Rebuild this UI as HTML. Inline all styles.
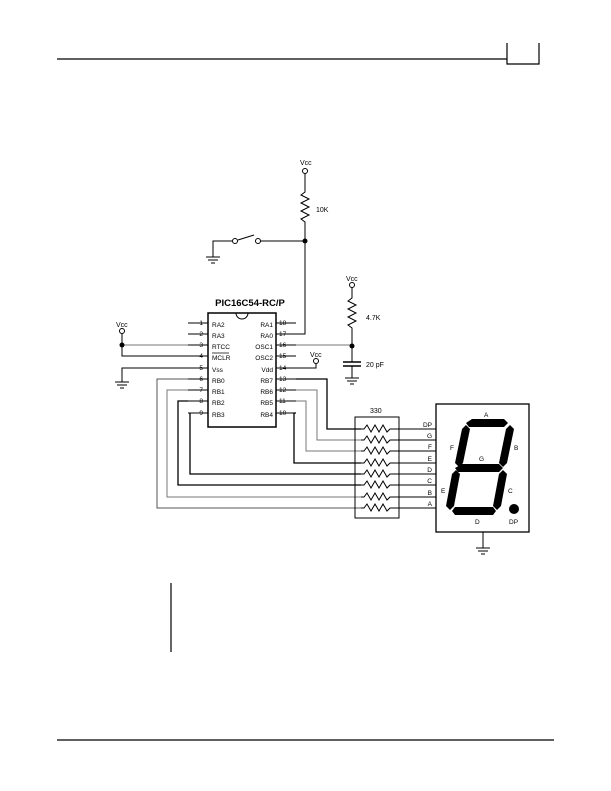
<!DOCTYPE html>
<html><head><meta charset="utf-8"><style>
html,body{margin:0;padding:0;background:#fff;}
svg{display:block;}
text{font-family:"Liberation Sans",Arial,sans-serif;fill:#000;}
</style></head><body>
<svg width="611" height="791" viewBox="0 0 611 791" xmlns="http://www.w3.org/2000/svg">
<!-- header -->
<g stroke="#000" stroke-width="1.2" fill="none">
<line x1="57" y1="59" x2="507" y2="59"/>
<polyline points="507,43 507,64 539,64 539,43"/>
<line x1="57" y1="740" x2="554" y2="740"/>
<line x1="171" y1="583" x2="171" y2="652"/>
</g>
<g stroke="#000" stroke-width="1" fill="none">
<!-- IC -->
<rect x="208" y="313" width="68" height="114" stroke-width="1.5"/>
<path d="M236,313 a6,6 0 0 0 12,0"/>
<!-- left stubs -->
<line x1="188" y1="323" x2="208" y2="323"/>
<line x1="188" y1="334" x2="208" y2="334"/>
<line x1="188" y1="345" x2="208" y2="345"/>
<line x1="188" y1="356" x2="208" y2="356"/>
<line x1="188" y1="368" x2="208" y2="368"/>
<line x1="188" y1="379" x2="208" y2="379"/>
<line x1="188" y1="390" x2="208" y2="390"/>
<line x1="188" y1="401" x2="208" y2="401"/>
<line x1="188" y1="413" x2="208" y2="413"/>
<!-- right stubs -->
<line x1="276" y1="323" x2="296" y2="323"/>
<line x1="276" y1="334" x2="296" y2="334"/>
<line x1="276" y1="345" x2="296" y2="345"/>
<line x1="276" y1="356" x2="296" y2="356"/>
<line x1="276" y1="368" x2="296" y2="368"/>
<line x1="276" y1="379" x2="296" y2="379"/>
<line x1="276" y1="390" x2="296" y2="390"/>
<line x1="276" y1="401" x2="296" y2="401"/>
<line x1="276" y1="413" x2="296" y2="413"/>
<!-- top: Vcc, 10K, switch -->
<circle cx="305" cy="171" r="2.5"/>
<polyline points="305,173 305,192 301,195 309,199 301,203 309,207 301,211 309,215 301,219 305,222 305,334 296,334"/>
<line x1="305" y1="241" x2="260" y2="241"/>
<circle cx="258" cy="241" r="2.5"/>
<line x1="238" y1="240" x2="254" y2="235"/>
<circle cx="235" cy="241" r="2.5"/>
<polyline points="232,241 213,241 213,257"/>
<line x1="206" y1="257" x2="220" y2="257"/>
<line x1="208" y1="260" x2="218" y2="260"/>
<line x1="211" y1="263" x2="215" y2="263"/>
<!-- left Vcc -->
<circle cx="122" cy="331" r="2.5"/>
<polyline points="122,333 122,356 188,356"/>
<line x1="122" y1="345" x2="188" y2="345" stroke="#777"/>
<!-- vss ground -->
<polyline points="188,368 122,368 122,382"/>
<line x1="115" y1="382" x2="129" y2="382"/>
<line x1="117" y1="385" x2="127" y2="385"/>
<line x1="120" y1="388" x2="124" y2="388"/>
<!-- vdd -->
<polyline points="296,368 316,368 316,363"/>
<circle cx="316" cy="361" r="2.5"/>
<!-- OSC1 -->
<line x1="296" y1="345" x2="352" y2="345" stroke="#777"/>
<!-- RC -->
<circle cx="352" cy="285" r="2.5"/>
<polyline points="352,287 352,298 348,301 356,305 348,309 356,313 348,317 356,321 348,325 352,328 352,362"/>
<line x1="343" y1="362" x2="361" y2="362" stroke-width="1.5"/>
<line x1="343" y1="366" x2="361" y2="366" stroke-width="1.5"/>
<line x1="352" y1="366" x2="352" y2="378"/>
<line x1="345" y1="378" x2="359" y2="378"/>
<line x1="347" y1="381" x2="357" y2="381"/>
<line x1="350" y1="384" x2="354" y2="384"/>
<!-- right pin routing -->
<polyline points="296,379 327,379 327,429 361,429" stroke-width="1.3"/>
<polyline points="296,390 317,390 317,440 361,440" stroke="#777"/>
<polyline points="296,401 306,401 306,451 361,451" stroke="#777"/>
<polyline points="296,413 294,413 294,463 361,463" stroke-width="1.3"/>
<line x1="294" y1="413" x2="296" y2="413"/>
<!-- left pin routing -->
<polyline points="190,413 190,474 361,474" stroke-width="1.3"/>
<polyline points="188,401 178,401 178,485 361,485" stroke-width="1.3"/>
<polyline points="188,390 167,390 167,497 361,497" stroke="#777"/>
<polyline points="188,379 157,379 157,508 361,508" stroke="#555"/>
<!-- network -->
<rect x="355" y="417" width="44" height="101"/>
<g id="zz">
<polyline points="361,429 364,429 367,425 371,432 375,425 379,432 383,425 387,432 390,429 436,429"/>
</g>
<use href="#zz" y="11"/>
<use href="#zz" y="22"/>
<use href="#zz" y="34"/>
<use href="#zz" y="45"/>
<use href="#zz" y="56"/>
<use href="#zz" y="68"/>
<use href="#zz" y="79"/>
<!-- display -->
<rect x="436" y="404" width="93" height="128" stroke-width="1.3"/>
<line x1="483" y1="532" x2="483" y2="548"/>
<line x1="476" y1="548" x2="490" y2="548"/>
<line x1="478" y1="551" x2="488" y2="551"/>
<line x1="481" y1="554" x2="485" y2="554"/>
</g>
<!-- junction dots -->
<g fill="#000">
<circle cx="305" cy="241" r="2.5"/>
<circle cx="122" cy="345" r="2.5"/>
<circle cx="352" cy="346" r="2.5"/>
<!-- segments -->
<polygon points="472,419 504,419 508,423 504,427 469,427 466,423"/>
<polygon points="510,425 514,429 507,463 503,467 499,463 506,429"/>
<polygon points="466,425 470,429 463,463 459,467 455,463 462,429"/>
<polygon points="462,464 499,464 503,468 499,472 458,472 455,468"/>
<polygon points="456,470 460,474 454,506 450,510 446,506 452,474"/>
<polygon points="503,470 507,474 501,506 497,510 493,506 499,474"/>
<polygon points="455,507 493,507 496,511 493,515 455,515 452,511"/>
<circle cx="514" cy="509" r="5"/>
</g>
<!-- text -->
<g font-size="7">
<text x="300" y="165">Vcc</text>
<text x="316" y="212">10K</text>
<text x="116" y="327">Vcc</text>
<text x="310" y="357">Vcc</text>
<text x="346" y="281">Vcc</text>
<text x="366" y="320">4.7K</text>
<text x="366" y="367">20 pF</text>
<text x="370" y="413">330</text>
</g>
<text x="250" y="306" font-size="9.5" font-weight="bold" text-anchor="middle">PIC16C54-RC/P</text>
<g font-size="6.5">
<text x="203" y="325" text-anchor="end">1</text>
<text x="203" y="336" text-anchor="end">2</text>
<text x="203" y="347" text-anchor="end">3</text>
<text x="203" y="358" text-anchor="end">4</text>
<text x="203" y="370" text-anchor="end">5</text>
<text x="203" y="381" text-anchor="end">6</text>
<text x="203" y="392" text-anchor="end">7</text>
<text x="203" y="403" text-anchor="end">8</text>
<text x="203" y="415" text-anchor="end">9</text>
<text x="279" y="325">18</text>
<text x="279" y="336">17</text>
<text x="279" y="347">16</text>
<text x="279" y="358">15</text>
<text x="279" y="370">14</text>
<text x="279" y="381">13</text>
<text x="279" y="392">12</text>
<text x="279" y="403">11</text>
<text x="279" y="415">10</text>
<text x="212" y="327">RA2</text>
<text x="212" y="338">RA3</text>
<text x="212" y="349">RTCC</text>
<text x="212" y="360">MCLR</text>
<line x1="212" y1="353" x2="229" y2="353" stroke="#000" stroke-width="0.7"/>
<text x="212" y="372">Vss</text>
<text x="212" y="383">RB0</text>
<text x="212" y="394">RB1</text>
<text x="212" y="405">RB2</text>
<text x="212" y="417">RB3</text>
<g text-anchor="end">
<text x="273" y="327">RA1</text>
<text x="273" y="338">RA0</text>
<text x="273" y="349">OSC1</text>
<text x="273" y="360">OSC2</text>
<text x="273" y="372">Vdd</text>
<text x="273" y="383">RB7</text>
<text x="273" y="394">RB6</text>
<text x="273" y="405">RB5</text>
<text x="273" y="417">RB4</text>
<text x="432" y="427">DP</text>
<text x="432" y="438">G</text>
<text x="432" y="449">F</text>
<text x="432" y="461">E</text>
<text x="432" y="472">D</text>
<text x="432" y="483">C</text>
<text x="432" y="495">B</text>
<text x="432" y="506">A</text>
</g>
<text x="484" y="417">A</text>
<text x="450" y="450">F</text>
<text x="514" y="450">B</text>
<text x="479" y="461">G</text>
<text x="441" y="493">E</text>
<text x="508" y="493">C</text>
<text x="475" y="524">D</text>
<text x="509" y="524">DP</text>
</g>
</svg>
</body></html>
